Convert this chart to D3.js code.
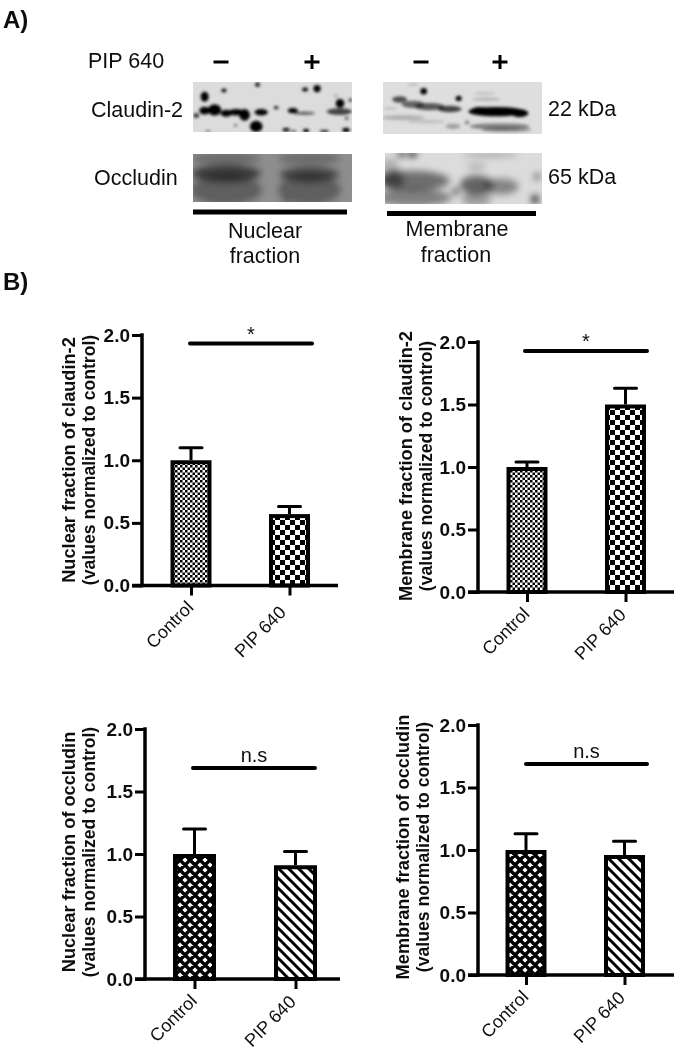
<!DOCTYPE html>
<html><head><meta charset="utf-8">
<script src="https://cdn.jsdelivr.net/npm/d3@7"></script>
<style>html,body{margin:0;padding:0;background:#fff}svg{display:block}text{font-family:"Liberation Sans",Arial,sans-serif;fill:#111}</style>
</head><body><div id="c"></div>
<script>
const categories = ["Control","PIP 640"];
const yTicks = [0,0.5,1,1.5,2];
const nuclearClaudinMean = [1.0,0.57];
const nuclearClaudinUpper = [1.10,0.63];
const membraneClaudinMean = [1.0,1.5];
const membraneClaudinUpper = [1.04,1.63];
const nuclearOccludinMean = [1.0,0.91];
const nuclearOccludinUpper = [1.20,1.02];
const membraneOccludinMean = [1.0,0.96];
const membraneOccludinUpper = [1.13,1.07];

// blot densities on each membrane's own lane grid: [lane x, lane y, spread x, spread y, density]
const nuclearClaudinSpots = [[45,107,16,12,1],[75,105,20,17,1],[110,115,17,11,1],[140,112,24,10,1],[165,120,16,18,1],[215,112,20,10,1],[200,155,19,17,1],[45,65,12,15,1],[103,46,8,6,.95],[204,28,7,7,.9],[20,122,8,7,.8],[260,98,7,5,.9],[347,43,9,6,1],[383,40,11,11,1],[452,85,13,13,1],[483,75,5,5,.9],[440,62,5,5,.3],[310,107,15,8,1],[345,115,32,5,.55],[450,110,38,10,.7],[290,165,11,6,.9],[350,168,9,6,1],[405,170,14,4,.9],[470,166,11,7,1],[55,170,9,3,.5],[138,152,5,4,.5],[472,130,5,5,.7],[312,170,9,3,.7]];
const membraneClaudinSpots = [[60,73,22,10,.65],[100,88,34,11,.55],[150,95,44,11,.6],[210,102,36,10,.7],[350,110,84,14,1],[300,108,28,12,1],[420,115,26,12,1],[360,155,90,10,.4],[380,165,75,8,.3],[70,128,65,8,.2],[140,140,55,5,.14],[30,100,22,4,.14],[220,155,22,8,.28],[262,143,7,6,.4],[132,48,10,10,1],[237,70,9,8,1],[320,72,42,5,.2],[315,55,32,4,.14],[100,28,16,4,.14]];
const nuclearOccludinSpots = [[110,295,105,24,.6],[360,298,90,21,.55],[110,345,108,45,.34],[360,345,95,45,.34],[110,250,105,20,.24],[360,250,95,20,.24],[290,378,14,4,.45]];
const membraneOccludinSpots = [[100,318,110,30,.5],[40,315,32,28,.4],[100,368,115,26,.42],[30,280,28,30,.2],[290,330,50,28,.55],[365,335,52,24,.4],[290,372,45,22,.3],[65,238,11,8,.9],[98,238,12,9,1],[227,350,9,9,.8],[472,305,9,10,.6],[466,373,10,12,1],[330,240,85,6,.3],[290,275,28,8,.25]];

const W=677,H=1050;
const svg=d3.select("#c").append("svg").attr("width",W).attr("height",H);
const defs=svg.append("defs");
defs.append("filter").attr("id","soft").attr("x","-2%").attr("y","-2%").attr("width","104%").attr("height","104%")
  .append("feGaussianBlur").attr("stdDeviation",0.55);
defs.append("filter").attr("id","blot").attr("x","-10%").attr("y","-10%").attr("width","120%").attr("height","120%")
  .append("feGaussianBlur").attr("stdDeviation",1.4);
defs.append("filter").attr("id","blot2").attr("x","-20%").attr("y","-20%").attr("width","140%").attr("height","140%")
  .append("feGaussianBlur").attr("stdDeviation",3.5);

function checker(id,c){
  const p=defs.append("pattern").attr("id",id).attr("patternUnits","userSpaceOnUse").attr("width",2*c).attr("height",2*c);
  p.append("rect").attr("width",2*c).attr("height",2*c).attr("fill","#fff");
  p.append("rect").attr("width",c).attr("height",c).attr("fill","#000");
  p.append("rect").attr("x",c).attr("y",c).attr("width",c).attr("height",c).attr("fill","#000");
}
checker("fine",2.5); checker("coarse",5);
(function(){
  const p=defs.append("pattern").attr("id","cross").attr("patternUnits","userSpaceOnUse").attr("width",10).attr("height",10);
  p.append("rect").attr("width",10).attr("height",10).attr("fill","#fff");
  p.append("path").attr("d","M-5,5L5,-5M0,10L10,0M5,15L15,5M-5,5L5,15M0,0L10,10M5,-5L15,5").attr("stroke","#000").attr("stroke-width",3.4);
  const q=defs.append("pattern").attr("id","stripe").attr("patternUnits","userSpaceOnUse").attr("width",10).attr("height",10);
  q.append("rect").attr("width",10).attr("height",10).attr("fill","#fff");
  q.append("path").attr("d","M-5,5L5,15M0,0L10,10M5,-5L15,5").attr("stroke","#000").attr("stroke-width",3);
})();

const root=svg.append("g").attr("filter","url(#soft)");

/* ---------- Panel A: blots ---------- */
function blot(x0,x1,y0,y1,dx,dy,bg,spots,extra){
  const cid="c"+x0+y0;
  defs.append("clipPath").attr("id",cid).append("rect").attr("x",x0).attr("y",y0).attr("width",x1-x0).attr("height",y1-y0);
  const sx=d3.scaleLinear().domain(dx).range([x0,x1]);
  const sy=d3.scaleLinear().domain(dy).range([y0,y1]);
  const g=root.append("g").attr("clip-path",`url(#${cid})`);
  g.append("rect").attr("x",x0).attr("y",y0).attr("width",x1-x0).attr("height",y1-y0).attr("fill",bg);
  const k=sx(1)-sx(0), m=sy(1)-sy(0);
  const f=g.append("g").attr("filter",`url(#${extra||"blot"})`);
  f.selectAll("ellipse").data(spots).join("ellipse")
    .attr("cx",d=>sx(d[0])).attr("cy",d=>sy(d[1]))
    .attr("rx",d=>d[2]*k).attr("ry",d=>d[3]*m)
    .attr("fill","#000").attr("opacity",d=>d[4]);
}
blot(193,352,82,132,[10,488],[20,172],"#dcdcdc",nuclearClaudinSpots);
blot(383,542,82,134,[10,487],[20,178],"#dedede",membraneClaudinSpots);
blot(193,352,154,202,[10,488],[236,382],"#8e8e8e",nuclearOccludinSpots,"blot2");
blot(385,542,153,204,[15,487],[235,387],"#dcdcdc",membraneOccludinSpots,"blot2");

const txt=(x,y,s,size,opt={})=>root.append("text").attr("x",x).attr("y",y).text(s)
  .attr("font-size",size).attr("font-weight",opt.b?"bold":null).attr("text-anchor",opt.a||"start");
txt(3,28,"A)",24,{b:1}); txt(3,290,"B)",24,{b:1});
txt(88,68,"PIP 640",21.5);
txt(91,117,"Claudin-2",21.5);
txt(94,185,"Occludin",21.5);
txt(548,116,"22 kDa",21.5);
txt(548,184,"65 kDa",21.5);
txt(265,238,"Nuclear",21.5,{a:"middle"});
txt(265,263,"fraction",21.5,{a:"middle"});
txt(457,236,"Membrane",21.5,{a:"middle"});
txt(456,262,"fraction",21.5,{a:"middle"});
[["−",221,1],["+",312,0],["−",421,1],["+",500,0]].forEach(([s,x,neg])=>{
  const yy=62;
  root.append("line").attr("x1",x-7.5).attr("x2",x+7.5).attr("y1",yy).attr("y2",yy).attr("stroke","#000").attr("stroke-width",3);
  if(!neg) root.append("line").attr("x1",x).attr("x2",x).attr("y1",yy-7).attr("y2",yy+7).attr("stroke","#000").attr("stroke-width",3);
});
root.append("rect").attr("x",193).attr("y",209.5).attr("width",154).attr("height",5).attr("fill","#000");
root.append("rect").attr("x",387).attr("y",211).attr("width",149).attr("height",5).attr("fill","#000");

/* ---------- Panel B: bars ---------- */
function chart(o){
  const y=d3.scaleLinear().domain([0,2]).range([o.y0,o.y2]);
  const x=d3.scalePoint().domain(categories).range(o.cx);
  const g=root.append("g");
  const barW=o.barW;
  const bars=g.selectAll(".b").data(categories).join("g");
  bars.append("line").attr("x1",d=>x(d)).attr("x2",d=>x(d))
    .attr("y1",(d,i)=>y(o.mean[i])).attr("y2",(d,i)=>y(o.upper[i])).attr("stroke","#000").attr("stroke-width",3);
  bars.append("line").attr("x1",d=>x(d)-11).attr("x2",d=>x(d)+11)
    .attr("y1",(d,i)=>y(o.upper[i])).attr("y2",(d,i)=>y(o.upper[i])).attr("stroke","#000").attr("stroke-width",3).attr("stroke-linecap","round");
  bars.append("rect").attr("x",d=>x(d)-barW/2+2).attr("width",barW-4)
    .attr("y",(d,i)=>y(o.mean[i])+2).attr("height",(d,i)=>y(0)-y(o.mean[i])-2)
    .attr("fill",(d,i)=>`url(#${o.fills[i]})`).attr("stroke","#000").attr("stroke-width",4);

  const yAxis=d3.axisLeft(y).tickValues(yTicks).tickFormat(d3.format(".1f")).tickSize(10).tickPadding(2);
  const ya=g.append("g").attr("transform",`translate(${o.ax},0)`).call(yAxis);
  ya.select(".domain").attr("d",`M0,${y(2)}V${y(0)}`).attr("stroke","#000").attr("stroke-width",3.5).attr("stroke-linecap","square");
  ya.selectAll(".tick line").attr("stroke","#000").attr("stroke-width",3);
  ya.selectAll(".tick text").attr("font-size",19).attr("font-weight","bold").attr("font-family",null);

  const xAxis=d3.axisBottom(x).tickSize(10).tickPadding(4);
  const xa=g.append("g").attr("transform",`translate(0,${o.y0})`).call(xAxis);
  xa.select(".domain").attr("d",`M${o.ax-10},0H${o.xEnd}`).attr("stroke","#000").attr("stroke-width",3.5);
  xa.selectAll(".tick line").attr("stroke","#000").attr("stroke-width",3);
  xa.selectAll(".tick text").attr("font-size",18).attr("font-family",null)
    .attr("text-anchor","end").attr("dy",null).attr("y",null)
    .attr("transform",(d,i)=>`translate(${(i==0?3:1)+(o.lab?o.lab[i][0]:0)},${(i==0?23:24)+(o.lab?o.lab[i][1]:0)}) rotate(-45)`);

  const tx=g.append("text").attr("transform",`translate(${o.tx},${o.ty}) rotate(-90)`).attr("text-anchor","middle")
    .attr("font-size",18.2).attr("font-weight","bold");
  tx.append("tspan").attr("x",0).attr("dy",0).text(o.t1);
  tx.append("tspan").attr("x",0).attr("dy",20).attr("font-size",17.6).text("(values normalized to control)");

  g.append("line").attr("x1",o.sig[0]).attr("x2",o.sig[1]).attr("y1",o.sig[2]).attr("y2",o.sig[2])
    .attr("stroke","#000").attr("stroke-width",4).attr("stroke-linecap","round");
  g.append("text").attr("x",(o.sig[0]+o.sig[1])/2).attr("y",o.sig[2]+o.sigDy).attr("text-anchor","middle")
    .attr("font-size",o.sigSize).text(o.sigText);
}
chart({y0:585.5,y2:335,ax:142,xEnd:338,cx:[191,289.5],barW:41,lab:[[0,0],[-4,4]],mean:nuclearClaudinMean,upper:nuclearClaudinUpper,fills:["fine","coarse"],
  t1:"Nuclear fraction of claudin-2",tx:75,ty:460,sig:[190,312,343.5],sigText:"*",sigDy:-3,sigSize:20});
chart({y0:592,y2:342,ax:478,xEnd:674,cx:[527,625.5],barW:41,mean:membraneClaudinMean,upper:membraneClaudinUpper,fills:["fine","coarse"],
  t1:"Membrane fraction of claudin-2",tx:412,ty:466,sig:[525,647,351],sigText:"*",sigDy:-3,sigSize:20});
chart({y0:979,y2:729,ax:145,xEnd:340,cx:[194.5,295.5],barW:43,mean:nuclearOccludinMean,upper:nuclearOccludinUpper,fills:["cross","stripe"],
  t1:"Nuclear fraction of occludin",tx:75,ty:852,sig:[193,315,768],sigText:"n.s",sigDy:-6,sigSize:20});
chart({y0:975,y2:725,ax:478,xEnd:674,cx:[526,624.5],barW:41,mean:membraneOccludinMean,upper:membraneOccludinUpper,fills:["cross","stripe"],
  t1:"Membrane fraction of occludin",tx:409,ty:847,sig:[526,647,764],sigText:"n.s",sigDy:-6,sigSize:20});
</script></body></html>
